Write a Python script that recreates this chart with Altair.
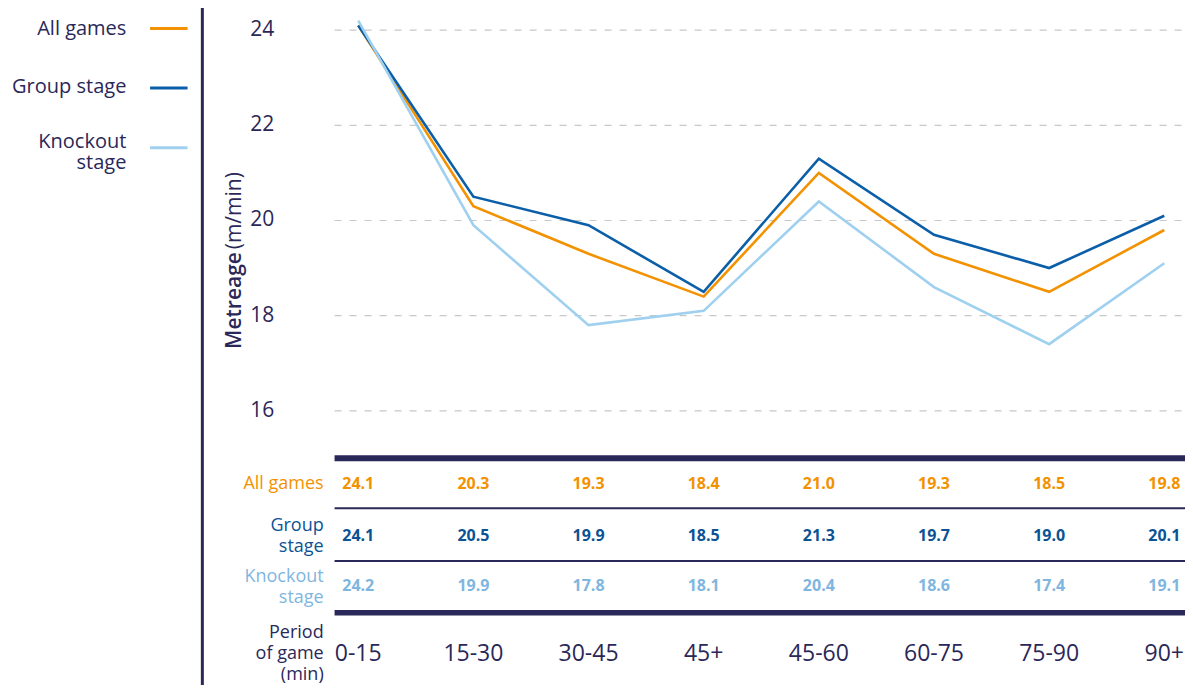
import altair as alt
import pandas as pd

# ---- data ----
periods = ["0-15", "15-30", "30-45", "45+", "45-60", "60-75", "75-90", "90+"]
all_games = [24.1, 20.3, 19.3, 18.4, 21.0, 19.3, 18.5, 19.8]
group_stage = [24.1, 20.5, 19.9, 18.5, 21.3, 19.7, 19.0, 20.1]
knockout_stage = [24.2, 19.9, 17.8, 18.1, 20.4, 18.6, 17.4, 19.1]
series_names = ["All games", "Group stage", "Knockout stage"]
y_ticks = [16, 18, 20, 22, 24]

series_values = {"All games": all_games, "Group stage": group_stage, "Knockout stage": knockout_stage}

# ---- styles ----
FONT = "Open Sans"
NAVY = "#2a2859"
LINE_COL = {"All games": "#f39200", "Group stage": "#0b5ea8", "Knockout stage": "#9fd0ef"}
TEXT_COL = {"All games": "#f39200", "Group stage": "#0b5394", "Knockout stage": "#7fb6e0"}

W, H = 1177, 677


def X(r):
    return r * W / 1193.0


def Y(r):
    return r * H / 693.0


rows = []
for s in series_names:
    for p, v in zip(periods, series_values[s]):
        rows.append({"series": s, "period": p, "value": v})
df = pd.DataFrame(rows)
grid_df = pd.DataFrame({"tick": y_ticks})
one = pd.DataFrame({"a": [0]})

xscale = alt.Scale(domain=periods, range=[X(355), X(1172)], padding=0)
yscale = alt.Scale(domain=[16, 24], range=[Y(412.3), Y(22.7)], zero=False, nice=False)
xenc = alt.X("period:O", sort=periods, scale=xscale, axis=None)

layers = []

# grid lines
layers.append(
    alt.Chart(grid_df).mark_rule(color="#c8c8c8", strokeWidth=1.2, strokeDash=[7, 8]).encode(
        y=alt.Y("tick:Q", scale=yscale, axis=None),
        x=alt.value(X(331)), x2=alt.value(W),
    )
)
# y tick labels
layers.append(
    alt.Chart(grid_df).mark_text(align="right", baseline="middle", fontSize=21, font=FONT, color=NAVY,
                                 fontWeight=500).encode(
        y=alt.Y("tick:Q", scale=yscale, axis=None),
        x=alt.value(X(270)),
        text=alt.Text("tick:Q"),
    )
)

# lines
for s in series_names:
    layers.append(
        alt.Chart(df[df.series == s]).mark_line(color=LINE_COL[s], strokeWidth=2.6).encode(
            x=xenc,
            y=alt.Y("value:Q", scale=yscale, axis=None),
        )
    )

# table values
row_y = {"All games": 487, "Group stage": 540, "Knockout stage": 592}
for s in series_names:
    layers.append(
        alt.Chart(df[df.series == s]).mark_text(
            baseline="middle", fontSize=16, fontWeight="bold", font=FONT, color=TEXT_COL[s]
        ).encode(
            x=xenc,
            y=alt.value(Y(row_y[s])),
            text=alt.Text("value:Q", format=".1f"),
        )
    )

# period labels
layers.append(
    alt.Chart(pd.DataFrame({"period": periods})).mark_text(
        baseline="middle", fontSize=23, font=FONT, color=NAVY
    ).encode(x=xenc, y=alt.value(Y(661)), text="period:O")
)


def rule(x1, x2, y1, y2, color, width):
    return alt.Chart(one).mark_rule(color=color, strokeWidth=width).encode(
        x=alt.value(X(x1)), x2=alt.value(X(x2)), y=alt.value(Y(y1)), y2=alt.value(Y(y2))
    )


def label(text, xr, yr, size, color, align="right", weight="normal", angle=0, lh=None):
    kw = dict(text=text, align=align, baseline="middle", fontSize=size, color=color,
              font=FONT, fontWeight=weight, angle=angle)
    if lh is not None:
        kw.update(lineBreak="\n", lineHeight=lh)
    return alt.Chart(one).mark_text(**kw).encode(x=alt.value(X(xr)), y=alt.value(Y(yr)))


# table rules
layers.append(rule(331, 1193, 461, 461, NAVY, 6))
layers.append(rule(331, 1193, 512, 512, NAVY, 2))
layers.append(rule(331, 1193, 566, 566, NAVY, 2))
layers.append(rule(331, 1193, 619, 619, NAVY, 5.5))

# vertical separator
layers.append(rule(197, 197, 0, 693, NAVY, 3))

# legend
layers.append(label("All games", 120, 21, 20, NAVY))
layers.append(rule(144, 182, 21, 21, LINE_COL["All games"], 3))
layers.append(label("Group stage", 120, 81, 20, NAVY))
layers.append(rule(144, 182, 82, 82, LINE_COL["Group stage"], 3))
layers.append(label("Knockout\nstage", 120, 137, 20, NAVY, lh=21))
layers.append(rule(144, 182, 143, 143, LINE_COL["Knockout stage"], 3))

# row labels
layers.append(label("All games", 320, 487, 18, TEXT_COL["All games"]))
layers.append(label("Group\nstage", 320, 530, 18, TEXT_COL["Group stage"], lh=21))
layers.append(label("Knockout\nstage", 320, 582, 18, TEXT_COL["Knockout stage"], lh=21))
layers.append(label("Period\nof game\n(min)", 320, 640, 18, NAVY, lh=21))

# y title
layers.append(label("Metreage", 230, 349, 21, NAVY, align="left", weight=600, angle=270))
layers.append(label("(m/min)", 230, 247, 21, NAVY, align="left", weight="normal", angle=270))

chart = alt.layer(*layers).properties(
    width=W, height=H, autosize=alt.AutoSizeParams(type="none"), padding=0
).configure_view(stroke=None)

chart.save("out.html", embed_options={"renderer": "svg", "actions": False})
